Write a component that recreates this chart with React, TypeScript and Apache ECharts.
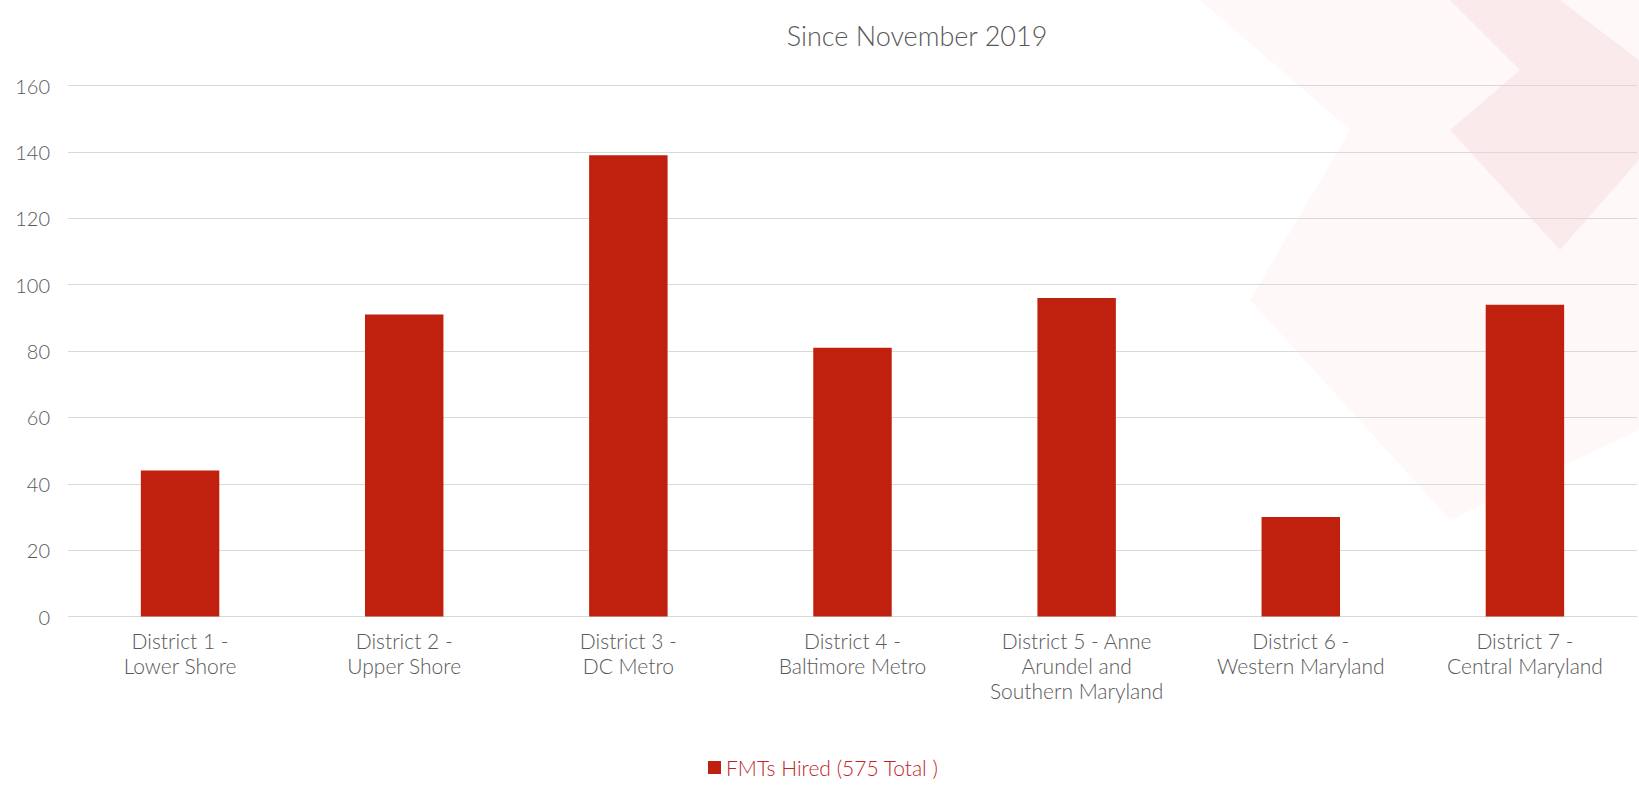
import React, { useEffect, useRef } from "react";
import * as echarts from "echarts";

const categories = [
  "District 1 -\nLower Shore",
  "District 2 -\nUpper Shore",
  "District 3 -\nDC Metro",
  "District 4 -\nBaltimore Metro",
  "District 5 - Anne\nArundel and\nSouthern Maryland",
  "District 6 -\nWestern Maryland",
  "District 7 -\nCentral Maryland",
];
const fmtsHired = [44, 91, 139, 81, 96, 30, 94];
const seriesName = "FMTs Hired (575 Total )";
const titleText = "Since November 2019";

export default function App() {
  const ref = useRef<HTMLDivElement>(null);
  useEffect(() => {
    if (!ref.current) return;
    const chart = echarts.init(ref.current, undefined, { renderer: "svg" });
    const font = "Lato, 'Open Sans', sans-serif";
    chart.setOption({
      animation: false,
      backgroundColor: "#ffffff",
      graphic: [
        {
          type: "polygon",
          silent: true,
          z: -10,
          shape: { points: [[1200, 0], [1639, 0], [1639, 430], [1450, 520], [1250, 300], [1350, 130]] },
          style: { fill: "rgba(220,60,80,0.035)" },
        },
        {
          type: "polygon",
          silent: true,
          z: -10,
          shape: { points: [[1450, 0], [1560, 0], [1639, 60], [1639, 160], [1560, 250], [1450, 130], [1520, 70]] },
          style: { fill: "rgba(210,50,70,0.07)" },
        },
      ],
      title: {
        text: titleText,
        left: 912,
        top: 17,
        textAlign: "center",
        textStyle: { fontFamily: font, fontSize: 27, fontWeight: 300, color: "#595959" },
      },
      legend: {
        bottom: 2,
        left: 703,
        textStyle: { fontFamily: font, fontSize: 21, color: "#c21f2a", fontWeight: 300 },
        icon: "rect",
        itemWidth: 13,
        itemHeight: 13,
        itemGap: 6,
        data: [seriesName],
      },
      grid: { left: 68, right: 2, top: 85.7, bottom: 785 - 616.5, containLabel: false },
      xAxis: {
        type: "category",
        data: categories,
        axisLine: { show: true, lineStyle: { color: "#d9d9d9", width: 1 } },
        axisTick: { show: false },
        axisLabel: {
          fontFamily: font,
          fontSize: 21,
          fontWeight: 300,
          color: "#595959",
          lineHeight: 25,
          margin: 11,
          interval: 0,
          align: "center",
        },
      },
      yAxis: {
        type: "value",
        min: 0,
        max: 160,
        interval: 20,
        axisLine: { show: false },
        axisTick: { show: false },
        splitLine: { lineStyle: { color: "#d9d9d9", width: 1 } },
        axisLabel: { fontFamily: font, fontSize: 20, fontWeight: 300, color: "#595959", margin: 18 },
      },
      series: [
        {
          name: seriesName,
          type: "bar",
          data: fmtsHired,
          barWidth: "35%",
          itemStyle: { color: "#c0210f" },
        },
      ],
    });
    return () => chart.dispose();
  }, []);
  return (
    <div
      ref={ref}
      style={{ position: "fixed", left: 0, top: 0, width: 1639, height: 785 }}
    />
  );
}
